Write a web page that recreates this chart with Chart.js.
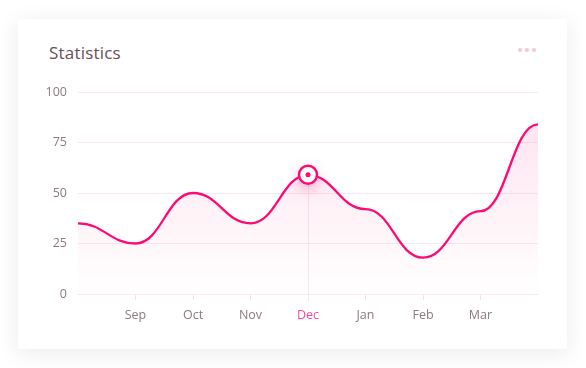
<!DOCTYPE html>
<html>
<head>
<meta charset="utf-8">
<script src="https://cdn.jsdelivr.net/npm/chart.js@4/dist/chart.umd.min.js"></script>
<style>
  html, body { margin: 0; padding: 0; background: #fff; }
  body { width: 586px; height: 368px; position: relative; overflow: hidden; font-family: "Open Sans", sans-serif; }
  .card {
    position: absolute; left: 18px; top: 19px; width: 549px; height: 330px;
    background: #fff; border-radius: 2px;
    box-shadow: 0 4px 22px rgba(60, 30, 45, 0.09);
  }
  .title { position: absolute; left: 31px; top: 22px; font-size: 17px; color: #6a4c59; letter-spacing: 0.2px; }
  .dots { position: absolute; left: 500px; top: 29px; display: flex; }
  .dots span { width: 4px; height: 4px; border-radius: 50%; background: #ebc9d8; margin-right: 3px; }
  .wrap { position: absolute; left: 0; top: 0; width: 549px; height: 330px; }
</style>
</head>
<body>
<div class="card">
  <div class="title">Statistics</div>
  <div class="dots"><span></span><span></span><span></span></div>
  <div class="wrap"><canvas id="statsChart"></canvas></div>
</div>
<script>
// chart data
const months = ['', 'Sep', 'Oct', 'Nov', 'Dec', 'Jan', 'Feb', 'Mar', ''];
const values = [35, 25, 50, 35, 59, 42, 18, 41, 84];
const yTicks = [0, 25, 50, 75, 100];
const activeIndex = 4;

const pink = '#ff0a72';

// smooth curve with flat tangents at every point
const flatCurve = {
    id: 'flatCurve',
    afterDatasetsUpdate(chart) {
        const meta = chart.getDatasetMeta(0);
        meta.dataset.updateControlPoints(chart.chartArea, 'x');
        const pts = meta.data;
        for (let i = 0; i < pts.length; i++) {
            const p = pts[i];
            const dl = i > 0 ? (p.x - pts[i - 1].x) * 0.45 : 0;
            const dr = i < pts.length - 1 ? (pts[i + 1].x - p.x) * 0.45 : 0;
            p.cp1x = p.x - dl; p.cp1y = p.y;
            p.cp2x = p.x + dr; p.cp2y = p.y;
        }
        meta.dataset._pointsUpdated = true;
    }
};

// hover line + highlighted point
const activePoint = {
    id: 'activePoint',
    beforeDatasetsDraw(chart) {
        const p = chart.getDatasetMeta(0).data[activeIndex];
        const ctx = chart.ctx;
        ctx.save();
        ctx.strokeStyle = '#f5e8ed';
        ctx.lineWidth = 1;
        ctx.beginPath();
        ctx.moveTo(Math.round(p.x) + 0.5, p.y);
        ctx.lineTo(Math.round(p.x) + 0.5, chart.chartArea.bottom + 7);
        ctx.stroke();
        ctx.restore();
    },
    afterDatasetsDraw(chart) {
        const p = chart.getDatasetMeta(0).data[activeIndex];
        const ctx = chart.ctx;
        ctx.save();
        ctx.shadowColor = 'rgba(255, 10, 114, 0.35)';
        ctx.shadowBlur = 14;
        ctx.shadowOffsetY = 5;
        ctx.beginPath();
        ctx.arc(p.x, p.y, 9, 0, Math.PI * 2);
        ctx.fillStyle = '#fff';
        ctx.fill();
        ctx.shadowColor = 'transparent';
        ctx.lineWidth = 2.5;
        ctx.strokeStyle = pink;
        ctx.stroke();
        ctx.beginPath();
        ctx.arc(p.x, p.y, 2.5, 0, Math.PI * 2);
        ctx.fillStyle = pink;
        ctx.fill();
        ctx.restore();
    }
};

const ctxLine = document.getElementById('statsChart').getContext('2d');
new Chart(ctxLine, {
    type: 'line',
    data: {
        labels: months,
        datasets: [{
            data: values,
            borderColor: pink,
            borderWidth: 2.3,
            tension: 0.4,
            pointRadius: 0,
            pointHoverRadius: 0,
            fill: 'start',
            backgroundColor: (c) => {
                const a = c.chart.chartArea;
                if (!a) return 'transparent';
                const g = c.chart.ctx.createLinearGradient(0, a.top, 0, a.bottom);
                g.addColorStop(0, 'rgba(255, 10, 114, 0.13)');
                g.addColorStop(1, 'rgba(255, 10, 114, 0.0)');
                return g;
            }
        }]
    },
    options: {
        responsive: true,
        maintainAspectRatio: false,
        animation: false,
        events: [],
        layout: { padding: { left: 0, right: 29, top: 73, bottom: 0 } },
        plugins: {
            legend: { display: false },
            tooltip: { enabled: false }
        },
        scales: {
            x: {
                afterFit: (s) => { s.height = 55; },
                border: { display: false },
                grid: {
                    drawOnChartArea: false,
                    drawTicks: true,
                    tickLength: 6,
                    color: (c) => (c.index === 0 || c.index === months.length - 1) ? 'transparent' : '#f3e2e9'
                },
                ticks: {
                    padding: 8,
                    maxRotation: 0,
                    autoSkip: false,
                    font: { family: 'Open Sans', size: 12.5 },
                    color: (c) => c.index === activeIndex ? '#ff4a92' : '#8e7783'
                }
            },
            y: {
                min: yTicks[0],
                max: yTicks[yTicks.length - 1],
                afterFit: (s) => { s.width = 60; },
                afterBuildTicks: (s) => { s.ticks = yTicks.map(v => ({ value: v })); },
                border: { display: false },
                grid: { drawTicks: false, color: '#f7e9ef', lineWidth: 1 },
                ticks: {
                    padding: 11,
                    font: { family: 'Open Sans', size: 12.5 },
                    color: '#8e7783'
                }
            }
        }
    },
    plugins: [flatCurve, activePoint]
});
</script>
</body>
</html>
